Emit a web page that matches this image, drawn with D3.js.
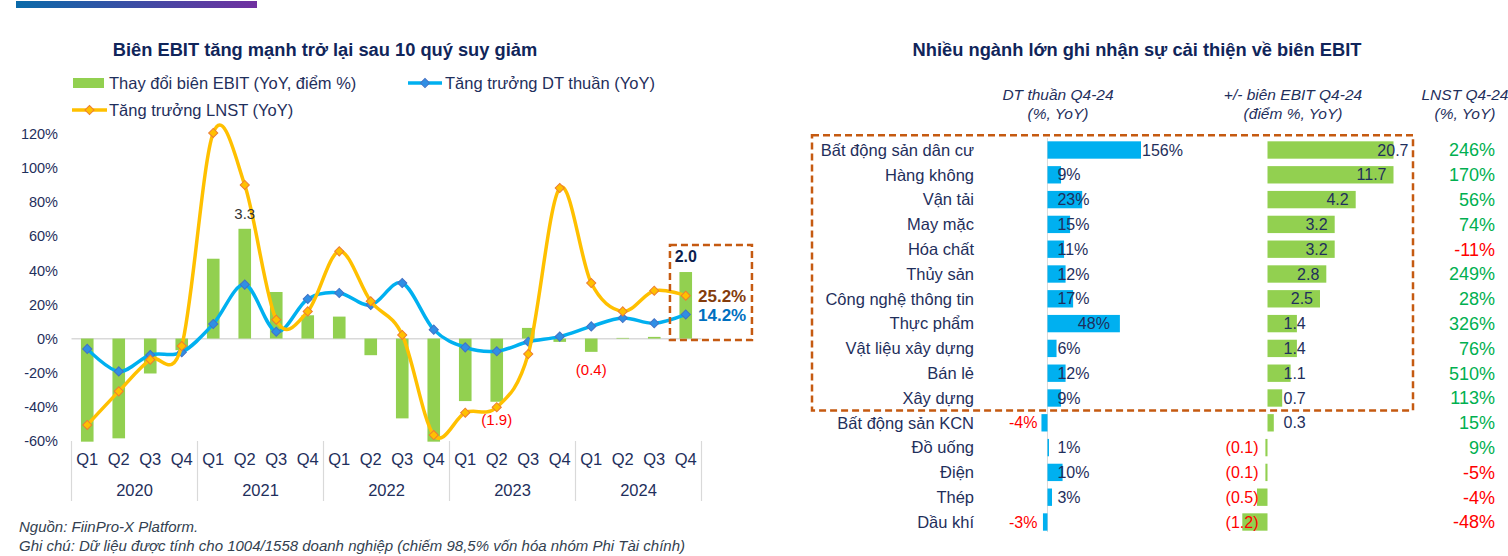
<!DOCTYPE html>
<html>
<head>
<meta charset="utf-8">
<script src="https://cdn.jsdelivr.net/npm/d3@7"></script>
<style>
  body { margin: 0; background: #fff; }
  svg { display: block; font-family: "Liberation Sans", Arial, sans-serif; }
</style>
</head>
<body>
<div id="chart"></div>
<script>
// ---- left chart data (quarterly, 2020 - 2024)
var quarters = ["Q1", "Q2", "Q3", "Q4"];
var years = ["2020", "2021", "2022", "2023", "2024"];
// EBIT margin change, percentage points YoY
var ebitChange = [-3.1, -3.0, -1.05, -0.35, 2.4, 3.3, 1.4, 0.7, 0.66, -0.5, -2.4, -3.1, -1.88, -1.9, 0.32, -0.1, -0.4, 0.02, 0.05, 2.0];
// net revenue growth YoY (%)
var revenueGrowth = [-6, -19.2, -9.6, -8, 8.6, 31.7, 4.1, 23.3, 26.8, 19.7, 32.6, 5.3, -5.1, -7.4, -1.8, 1.2, 7.2, 12.1, 9.0, 14.2];
// net profit growth YoY (%)
var profitGrowth = [-50.6, -30.9, -12.3, -4.3, 120.6, 90.1, 11.1, 16, 51.2, 21.9, 2.2, -56.5, -43.4, -40.2, -9, 88.3, 32.6, 16, 28.1, 25.2];
var yTicks = [-60, -40, -20, 0, 20, 40, 60, 80, 100, 120];
var labelledBars = [5, 13, 16];

// ---- right chart data (sectors, Q4-24)
var sectors = ["Bất động sản dân cư", "Hàng không", "Vận tải", "May mặc", "Hóa chất", "Thủy sản", "Công nghệ thông tin", "Thực phẩm", "Vật liệu xây dựng", "Bán lẻ", "Xây dựng", "Bất động sản KCN", "Đồ uống", "Điện", "Thép", "Dầu khí"];
var sectorRevenue = [156, 9, 23, 15, 11, 12, 17, 48, 6, 12, 9, -4, 1, 10, 3, -3];
var sectorEbit = [20.7, 11.7, 4.2, 3.2, 3.2, 2.8, 2.5, 1.4, 1.4, 1.1, 0.7, 0.3, -0.1, -0.1, -0.5, -1.2];
var sectorProfit = [246, 170, 56, 74, -11, 249, 28, 326, 76, 510, 113, 15, 9, -5, -4, -48];
var boxedSectors = 11;

var svgWidth = 1508, svgHeight = 556;
var navy = "#1F2F5C", titleNavy = "#10255A";

var svg = d3.select("#chart").append("svg")
  .attr("width", svgWidth)
  .attr("height", svgHeight);

// top decoration bar
var grad = svg.append("defs").append("linearGradient").attr("id", "topbar");
grad.append("stop").attr("offset", "0%").attr("stop-color", "#0A6AA9");
grad.append("stop").attr("offset", "100%").attr("stop-color", "#7030A0");
svg.append("rect").attr("x", 16).attr("y", 1).attr("width", 241).attr("height", 7).attr("fill", "url(#topbar)");

// ===================== LEFT CHART =====================
var idx = d3.range(ebitChange.length);
var x = d3.scaleBand().domain(idx).range([71.5, 701.5]).paddingInner(0.6).paddingOuter(0.3);
var cx = function(i) { return x(i) + x.bandwidth() / 2; };
var xYear = d3.scaleBand().domain(years).range([71.5, 701.5]);
var y = d3.scaleLinear().domain([-60, 120]).range([441, 134]);
// hidden secondary axis for the bars (points)
var y2 = d3.scaleLinear().domain([-3.08, 6.15]).range([441, 134]);

var left = svg.append("g");

left.append("text")
  .attr("x", 325).attr("y", 50).attr("dy", "0.35em")
  .attr("text-anchor", "middle")
  .style("font-size", "18.3px").style("font-weight", "bold")
  .style("fill", titleNavy)
  .text("Biên EBIT tăng mạnh trở lại sau 10 quý suy giảm");

// legend
var lg = left.append("g").style("font-size", "16.5px").style("fill", navy);
lg.append("rect").attr("x", 73).attr("y", 78).attr("width", 31).attr("height", 10).attr("fill", "#92D050");
lg.append("text").attr("x", 109).attr("y", 83).attr("dy", "0.35em").text("Thay đổi biên EBIT (YoY, điểm %)");
lg.append("line").attr("x1", 408).attr("x2", 442).attr("y1", 83).attr("y2", 83).attr("stroke", "#00B0F0").attr("stroke-width", 3.5);
lg.append("path").attr("d", d3.symbol(d3.symbolSquare, 42)()).attr("transform", "translate(425,83) rotate(45)")
  .attr("fill", "#2F8FE5").attr("stroke", "#4472C4");
lg.append("text").attr("x", 445).attr("y", 83).attr("dy", "0.35em").text("Tăng trưởng DT thuần (YoY)");
lg.append("line").attr("x1", 72).attr("x2", 107).attr("y1", 110).attr("y2", 110).attr("stroke", "#FFC000").attr("stroke-width", 3.5);
lg.append("path").attr("d", d3.symbol(d3.symbolSquare, 42)()).attr("transform", "translate(89.5,110) rotate(45)")
  .attr("fill", "#FFC000").attr("stroke", "#ED7D31");
lg.append("text").attr("x", 109).attr("y", 110).attr("dy", "0.35em").text("Tăng trưởng LNST (YoY)");

// y axis
var yAxis = left.append("g")
  .attr("transform", "translate(58,0)")
  .call(d3.axisLeft(y).tickValues(yTicks).tickSize(0).tickPadding(0).tickFormat(function(d) { return d + "%"; }));
yAxis.select(".domain").remove();
yAxis.selectAll("text").style("font-size", "14.5px").style("fill", navy).style("font-family", "Liberation Sans, Arial, sans-serif");

// zero line
left.append("line")
  .attr("x1", 71.5).attr("x2", 701.5).attr("y1", y(0)).attr("y2", y(0))
  .attr("stroke", "#D9D9D9").attr("stroke-width", 1.5);

// x axis: quarters, years, separators
var xAxis = left.append("g")
  .attr("transform", "translate(0,453)")
  .call(d3.axisBottom(x).tickSize(0).tickPadding(0).tickFormat(function(i) { return quarters[i % 4]; }));
xAxis.select(".domain").remove();
xAxis.selectAll("text").style("font-size", "16.5px").style("fill", navy).style("font-family", "Liberation Sans, Arial, sans-serif");

left.selectAll(".year").data(years).enter().append("text")
  .attr("x", function(d) { return xYear(d) + xYear.bandwidth() / 2; })
  .attr("y", 490).attr("dy", "0.35em")
  .attr("text-anchor", "middle")
  .style("font-size", "16.5px").style("fill", navy)
  .text(function(d) { return d; });

left.selectAll(".sep").data(years.concat(["end"])).enter().append("line")
  .attr("x1", function(d) { return d === "end" ? 701.5 : xYear(d); })
  .attr("x2", function(d) { return d === "end" ? 701.5 : xYear(d); })
  .attr("y1", 441).attr("y2", 501)
  .attr("stroke", "#D9D9D9").attr("stroke-width", 1.2);

// bars
left.selectAll(".bar").data(ebitChange).enter().append("rect")
  .attr("x", function(d, i) { return x(i); })
  .attr("width", x.bandwidth())
  .attr("y", function(d) { return y2(Math.max(0, d)); })
  .attr("height", function(d) { return Math.abs(y2(d) - y2(0)); })
  .attr("fill", "#92D050");

// lines
var line = d3.line()
  .x(function(d, i) { return cx(i); })
  .y(function(d) { return y(d); })
  .curve(d3.curveCardinal.tension(0));

function drawSeries(values, color, markerFill, markerStroke) {
  left.append("path").datum(values)
    .attr("d", line)
    .attr("fill", "none").attr("stroke", color).attr("stroke-width", 3.5);
  left.selectAll(null).data(values).enter().append("path")
    .attr("d", d3.symbol(d3.symbolSquare, 42)())
    .attr("transform", function(d, i) { return "translate(" + cx(i) + "," + y(d) + ") rotate(45)"; })
    .attr("fill", markerFill).attr("stroke", markerStroke).attr("stroke-width", 1);
}
drawSeries(revenueGrowth, "#00B0F0", "#2F8FE5", "#4472C4");
drawSeries(profitGrowth, "#FFC000", "#FFC000", "#ED7D31");

// bar labels
function fmtPts(v) { return v < 0 ? "(" + Math.abs(v).toFixed(1) + ")" : v.toFixed(1); }
left.selectAll(".blabel").data(labelledBars).enter().append("text")
  .attr("x", function(i) { return cx(i); })
  .attr("y", function(i) { var v = ebitChange[i]; return v < 0 ? y2(v) + 18 : y2(v) - 15; })
  .attr("dy", "0.35em")
  .attr("text-anchor", "middle")
  .style("font-size", "15px")
  .style("fill", function(i) { return ebitChange[i] < 0 ? "#FF0000" : "#333333"; })
  .text(function(i) { return fmtPts(ebitChange[i]); });

// highlight of the last quarter
var last = ebitChange.length - 1;
left.append("rect")
  .attr("x", x(last) - 9.5).attr("y", 245)
  .attr("width", 82).attr("height", 95)
  .attr("fill", "none").attr("stroke", "#C55A11").attr("stroke-width", 2.5)
  .attr("stroke-dasharray", "7,4");
left.append("text")
  .attr("x", cx(last)).attr("y", y2(ebitChange[last]) - 16).attr("dy", "0.35em")
  .attr("text-anchor", "middle")
  .style("font-size", "16px").style("font-weight", "bold").style("fill", "#0D1F4F")
  .text(fmtPts(ebitChange[last]));
left.append("text")
  .attr("x", 698).attr("y", y(profitGrowth[last])).attr("dy", "0.35em")
  .style("font-size", "17px").style("font-weight", "bold").style("fill", "#843C0C")
  .text(profitGrowth[last].toFixed(1) + "%");
left.append("text")
  .attr("x", 698).attr("y", y(revenueGrowth[last]) + 1).attr("dy", "0.35em")
  .style("font-size", "17px").style("font-weight", "bold").style("fill", "#0070C0")
  .text(revenueGrowth[last].toFixed(1) + "%");

// footnotes
var foot = svg.append("g").style("font-size", "15px").style("font-style", "italic").style("fill", "#333F50");
foot.append("text").attr("x", 19).attr("y", 527).attr("dy", "0.35em").text("Nguồn: FiinPro-X Platform.");
foot.append("text").attr("x", 19).attr("y", 546).attr("dy", "0.35em").text("Ghi chú: Dữ liệu được tính cho 1004/1558 doanh nghiệp (chiếm 98,5% vốn hóa nhóm Phi Tài chính)");

// ===================== RIGHT CHART =====================
var right = svg.append("g");
right.append("text")
  .attr("x", 1137).attr("y", 50).attr("dy", "0.35em")
  .attr("text-anchor", "middle")
  .style("font-size", "18.3px").style("font-weight", "bold").style("fill", titleNavy)
  .text("Nhiều ngành lớn ghi nhận sự cải thiện về biên EBIT");

var headers = [
  { x: 1058, l1: "DT thuần Q4-24", l2: "(%, YoY)" },
  { x: 1293, l1: "+/- biên EBIT Q4-24", l2: "(điểm %, YoY)" },
  { x: 1465, l1: "LNST Q4-24", l2: "(%, YoY)" }
];
var hd = right.selectAll(".hdr").data(headers).enter().append("g")
  .style("font-size", "15.5px").style("font-style", "italic").style("fill", navy)
  .attr("text-anchor", "middle");
hd.append("text").attr("x", function(d) { return d.x; }).attr("y", 95).attr("dy", "0.35em").text(function(d) { return d.l1; });
hd.append("text").attr("x", function(d) { return d.x; }).attr("y", 114).attr("dy", "0.35em").text(function(d) { return d.l2; });

var row = d3.scaleBand().domain(sectors).range([137.6, 534.4]).paddingInner(0.3).paddingOuter(0.15);
var rowMid = function(s) { return row(s) + row.bandwidth() / 2; };
var xRev = d3.scaleLinear().domain([-10, 62]).range([1032.4, 1141]).clamp(true);
var xEbit = d3.scaleLinear().domain([-2, 6]).range([1225.5, 1393.5]).clamp(true);

// category labels
right.selectAll(".cat").data(sectors).enter().append("text")
  .attr("x", 974).attr("y", function(d) { return rowMid(d); }).attr("dy", "0.35em")
  .attr("text-anchor", "end")
  .style("font-size", "16.5px").style("fill", navy)
  .text(function(d) { return d; });

// revenue axis line
right.append("line")
  .attr("x1", xRev(0)).attr("x2", xRev(0)).attr("y1", 138).attr("y2", 532)
  .attr("stroke", "#D9D9D9").attr("stroke-width", 1);

function hbars(values, scale, color) {
  right.selectAll(null).data(values).enter().append("rect")
    .attr("x", function(d) { return Math.min(scale(0), scale(d)); })
    .attr("width", function(d) { return Math.max(1.2, Math.abs(scale(d) - scale(0))); })
    .attr("y", function(d, i) { return row(sectors[i]); })
    .attr("height", row.bandwidth())
    .attr("fill", color);
}
hbars(sectorRevenue, xRev, "#00B0F0");
hbars(sectorEbit, xEbit, "#92D050");

// value labels (placed after measuring their width); values far past the
// cut-off bar length get their label outside the bar
function hlabels(values, scale, text, opts) {
  right.selectAll(null).data(values).enter().append("text")
    .attr("y", function(d, i) { return rowMid(sectors[i]); }).attr("dy", "0.35em")
    .style("font-size", "16px")
    .style("fill", function(d) { return d < 0 ? "#FF0000" : navy; })
    .text(text)
    .each(function(d) {
      var t = d3.select(this), w = this.getComputedTextLength();
      var base = scale(0), end = scale(d);
      var overflow = Math.abs(d) > 2 * scale.domain()[1];
      if (d < 0) {
        t.attr("text-anchor", "end").attr("x", base - opts.neg);
      } else if (overflow) {
        t.attr("text-anchor", "end").attr("x", end + opts.over + (opts.overStart ? w : 0));
      } else {
        t.attr("text-anchor", "end").attr("x", Math.max(end - opts.inset, base + opts.min + w));
      }
    });
}
hlabels(sectorRevenue, xRev, function(d) { return d + "%"; }, { neg: 10, over: 1, overStart: true, inset: 10, min: 10 });
hlabels(sectorEbit, xEbit, fmtPts, { neg: 9, over: 15, overStart: false, inset: 7, min: 16 });

// net profit column
right.selectAll(".lnst").data(sectorProfit).enter().append("text")
  .attr("x", 1495).attr("y", function(d, i) { return rowMid(sectors[i]); }).attr("dy", "0.35em")
  .attr("text-anchor", "end")
  .style("font-size", "18px")
  .style("fill", function(d) { return d < 0 ? "#FF0000" : "#00B050"; })
  .text(function(d) { return d + "%"; });

// dashed box round the improving sectors
right.append("rect")
  .attr("x", 812).attr("y", row(sectors[0]) - 6)
  .attr("width", 601)
  .attr("height", row(sectors[boxedSectors - 1]) + row.bandwidth() + row.step() * 0.15 - row(sectors[0]) + 6)
  .attr("fill", "none").attr("stroke", "#C55A11").attr("stroke-width", 2.5)
  .attr("stroke-dasharray", "7,4");
</script>
</body>
</html>
